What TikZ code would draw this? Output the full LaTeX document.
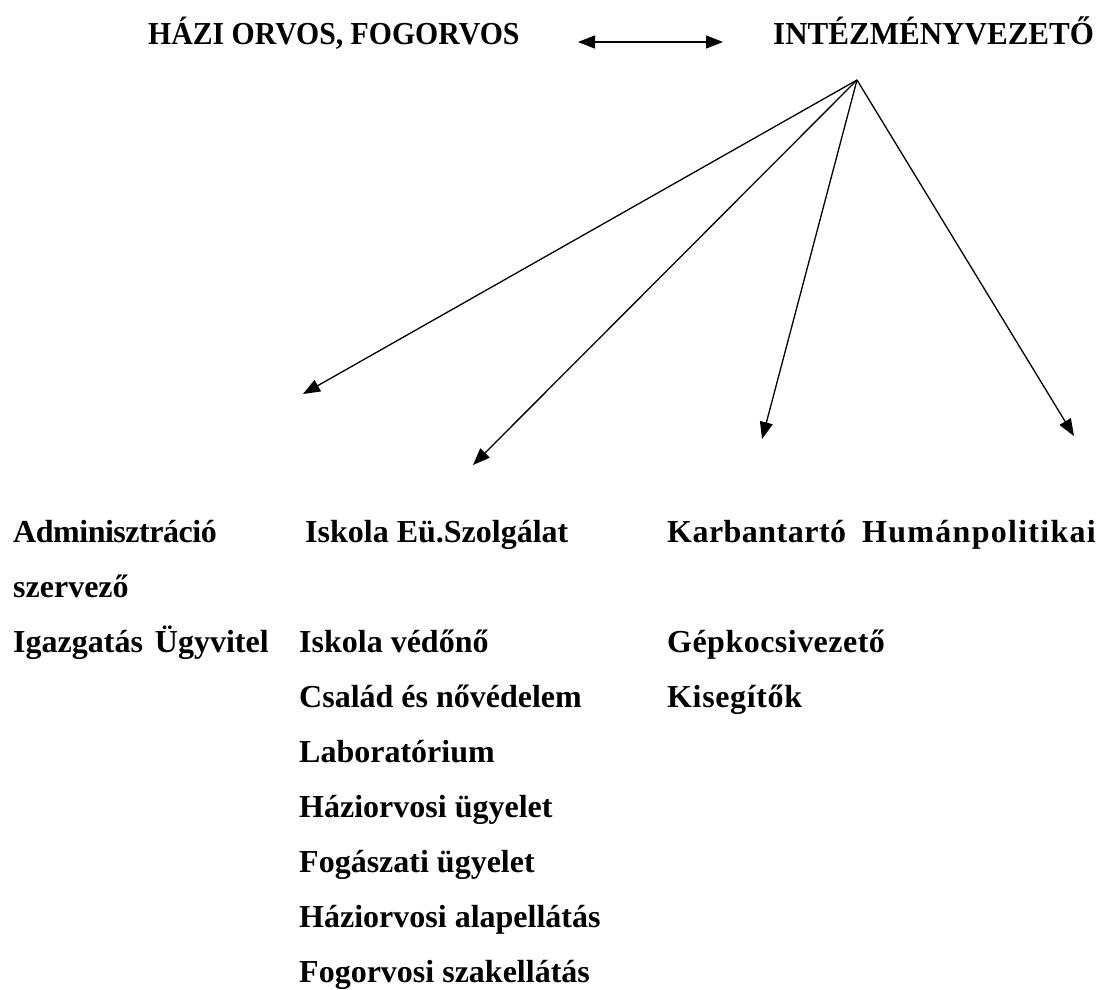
\documentclass[tikz,border=0pt]{standalone}
\usepackage{fontspec}
\setmainfont{Liberation Serif}
\newfontfamily\titlefont[FakeStretch=0.93]{Liberation Serif}
\newfontfamily\headfont[FakeStretch=0.97]{Liberation Serif}
\usepackage{tikz}
\usetikzlibrary{arrows.meta,positioning,calc}

\begin{document}
\begin{tikzpicture}[x=1pt,y=-1pt,>={Triangle[length=17pt,width=13pt]},
  lbl/.style={anchor=base west,inner sep=0pt,font=\fontsize{32}{38}\selectfont\bfseries},
  wide/.style={lbl,font=\fontsize{32}{38}\selectfont\bfseries\addfontfeature{LetterSpace=#1}},
  ttl/.style={anchor=base west,inner sep=0pt,font=\titlefont\fontsize{32}{38}\selectfont\bfseries},
  link/.style={->,line width=1.3pt}]
  \useasboundingbox (0,0) rectangle (1115,989);
  % Top: the two heads
  \node[ttl] (orvos) at (148,44) {HÁZI ORVOS, FOGORVOS};
  \node[ttl,font=\headfont\fontsize{32}{38}\selectfont\bfseries] (vezeto) at (773,44) {INTÉZMÉNYVEZETŐ};
  \coordinate (kapcsL) at (578,42);
  \coordinate (kapcsR) at (723,42);
  \draw[<->,line width=1.3pt] (kapcsL) -- (kapcsR);
  % arrows from the head
  \coordinate (csucs) at (857,80);
  \coordinate (adminV) at (303,394);
  \coordinate (iskolaV) at (473,465);
  \coordinate (karbV) at (762,439);
  \coordinate (humanV) at (1074,436);
  \draw[link] (csucs) -- (adminV);
  \draw[link] (csucs) -- (iskolaV);
  \draw[link] (csucs) -- (karbV);
  \draw[link] (csucs) -- (humanV);

  % Column 1
  \node[wide=-1.5] (admin) at (13,542) {Adminisztráció};
  \node[lbl] (szerv) at (13,597) {szervező};
  \node[lbl] (igazg) at (13,652) {Igazgatás\hspace{12pt}Ügyvitel};
  % Column 2
  \node[lbl] (iskola) at (305,542) {Iskola Eü.Szolgálat};
  \node[lbl] (vedono) at (299,652) {Iskola védőnő};
  \node[lbl] (csalad) at (299,707) {Család és nővédelem};
  \node[lbl] (labor) at (299,762) {Laboratórium};
  \node[lbl] (hugy) at (299,817) {Háziorvosi ügyelet};
  \node[lbl] (fugy) at (299,872) {Fogászati ügyelet};
  \node[lbl] (halap) at (299,927) {Háziorvosi alapellátás};
  \node[lbl] (fszak) at (299,982) {Fogorvosi szakellátás};
  % Column 3 and 4
  \node[wide=1.5] (karb) at (667,542) {Karbantartó};
  \node[wide=1.5] (gepk) at (667,652) {Gépkocsivezető};
  \node[wide=2] (kiseg) at (667,707) {Kisegítők};
  \node[wide=4] (human) at (862,542) {Humánpolitikai};
\end{tikzpicture}
\end{document}
